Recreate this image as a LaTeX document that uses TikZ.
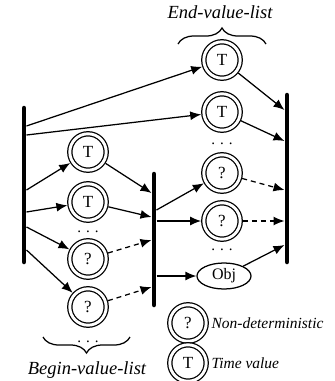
\documentclass[tikz,border=0pt]{standalone}
\usepackage{fontspec}
\setmainfont{Liberation Serif}
\usetikzlibrary{arrows.meta,shapes.geometric,decorations.pathreplacing}
\begin{document}
\begin{tikzpicture}[x=1pt,y=-1pt,
  dc/.style={circle, draw, double, line width=1.25pt, double distance=2.9pt, minimum size=36.4pt, inner sep=0pt, outer sep=2.7pt, font=\fontsize{17}{17}\selectfont},
  obj/.style={ellipse, draw, line width=1.25pt, minimum width=54pt, minimum height=26pt, inner sep=0pt, font=\fontsize{16}{16}\selectfont},
  arr/.style={line width=1.25pt, -{Latex[length=11pt,width=9pt]}},
  darr/.style={arr, dash pattern=on 5pt off 4pt},
  bar/.style={line width=4.5pt, line cap=round},
  lbl/.style={font=\fontsize{18.5}{18.5}\selectfont\itshape},
  leg/.style={font=\fontsize{15.5}{15.5}\selectfont\itshape, anchor=west},
  dots/.style={font=\fontsize{15}{15}\selectfont, anchor=base},
  brc/.style={decorate, decoration={brace, amplitude=16pt}, line width=1.25pt}
]
\useasboundingbox (0,0) rectangle (335,381);
% bars
\coordinate (Lt) at (24,108); \coordinate (Lb) at (24,262);
\coordinate (Mt) at (154,174); \coordinate (Mb) at (154,305);
\coordinate (Rt) at (287,95); \coordinate (Rb) at (287,262);
\draw[bar] (Lt) -- (Lb);
\draw[bar] (Mt) -- (Mb);
\draw[bar] (Rt) -- (Rb);
% nodes
\node[dc] (TL1) at (88,152) {T};
\node[dc] (TL2) at (88,202) {T};
\node[dc] (QL1) at (88,259) {?};
\node[dc] (QL2) at (88,307) {?};
\node[dc] (TR1) at (222,60) {T};
\node[dc] (TR2) at (222,112) {T};
\node[dc] (QR1) at (222,173) {?};
\node[dc] (QR2) at (222,221) {?};
\node[obj] (OB) at (224,276) {Obj};
\node[dots] (d1) at (88,232) {. . .};
\node[dots] (d2) at (88,342) {. . .};
\node[dots] (d3) at (222,144) {. . .};
\node[dots] (d4) at (222,250) {. . .};
% legend
\node[dc] (LQ) at (188,323) {?};
\node[dc] (LT) at (188,363) {T};
\node[leg] (LQt) at (208,323) {Non-deterministic};
\node[leg] (LTt) at (208,363) {Time value};
% braces
\coordinate (B1a) at (178,44); \coordinate (B1b) at (266,44);
\draw[brc] (B1a) -- (B1b);
\node[lbl] (EVL) at (220,12) {End-value-list};
\coordinate (B2a) at (130,337); \coordinate (B2b) at (43,337);
\draw[brc] (B2a) -- (B2b);
\node[lbl] (BVL) at (87,370) {Begin-value-list};
% bar anchor coordinates
\coordinate (L1) at (26.5,126);
\coordinate (L2) at (26.5,135);
\coordinate (L3) at (26.5,190);
\coordinate (L4) at (26.5,212);
\coordinate (L5) at (26.5,227);
\coordinate (L6) at (26.5,250);
\coordinate (Mi1) at (151.5,193);
\coordinate (Mi2) at (151.5,217);
\coordinate (Mi3) at (151.5,240);
\coordinate (Mi4) at (151.5,287);
\coordinate (Mo1) at (156.5,210);
\coordinate (Mo2) at (156.5,221);
\coordinate (Mo3) at (156.5,276);
\coordinate (R1) at (284.5,110);
\coordinate (R2) at (284.5,141);
\coordinate (R3) at (284.5,190);
\coordinate (R4) at (284.5,221);
\coordinate (R5) at (284.5,245);
% arrows
\draw[arr] (L1) -- (TR1);
\draw[arr] (L2) -- (TR2);
\draw[arr] (L3) -- (TL1);
\draw[arr] (L4) -- (TL2);
\draw[arr] (L5) -- (QL1);
\draw[arr] (L6) -- (QL2);
\draw[arr] (TL1) -- (Mi1);
\draw[arr] (TL2) -- (Mi2);
\draw[darr] (QL1) -- (Mi3);
\draw[darr] (QL2) -- (Mi4);
\draw[arr] (Mo1) -- (QR1);
\draw[arr] (Mo2) -- (QR2);
\draw[arr] (Mo3) -- (OB);
\draw[arr] (TR1) -- (R1);
\draw[arr] (TR2) -- (R2);
\draw[darr] (QR1) -- (R3);
\draw[darr] (QR2) -- (R4);
\draw[arr] (OB) -- (R5);
\end{tikzpicture}
\end{document}
